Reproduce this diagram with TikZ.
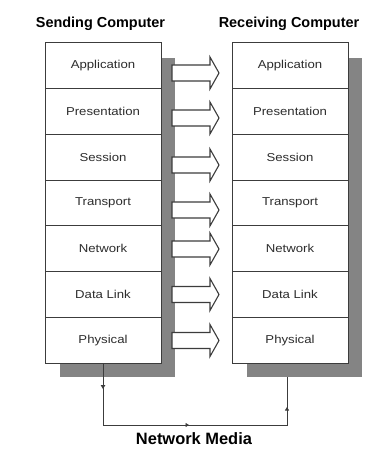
\documentclass[tikz,border=0pt]{standalone}
\usepackage{fontspec}
\setmainfont{Liberation Sans}
\newfontfamily\layerfont[FakeStretch=1.15]{Liberation Sans}
\usetikzlibrary{arrows.meta,decorations.markings}
\definecolor{shadowgray}{RGB}{132,132,132}
\definecolor{edgegray}{RGB}{60,60,60}
\definecolor{textgray}{RGB}{45,45,45}
\tikzset{
  layer/.style={draw=edgegray, line width=1bp, fill=white, minimum width=116bp, minimum height=45.714bp,
    inner sep=0pt, outer sep=0pt, font=\layerfont\fontsize{11.5}{13}\selectfont, text=textgray},
  shadowbox/.style={fill=shadowgray},
  blockarrow/.style={draw=edgegray, line width=1.1bp, fill=white, line join=miter},
  header/.style={font=\bfseries\fontsize{14.5}{16}\selectfont, inner sep=0pt},
  wire/.style={draw=edgegray, line width=1bp,
    decoration={markings,
      mark=at position 26bp with {\arrow{Triangle[length=4bp,width=4.5bp]}},
      mark=at position 148bp with {\arrow{Triangle[length=3.5bp,width=4bp]}},
      mark=at position 264bp with {\arrow{Triangle[length=3.5bp,width=4bp]}}},
    postaction={decorate}}
}
\begin{document}
\begin{tikzpicture}[x=1bp,y=-1bp]
\useasboundingbox (0,0) rectangle (387,453);
% shadows
\fill[shadowbox] (60,58) rectangle (175,377);
\fill[shadowbox] (247,58) rectangle (362,377);
% layers
\foreach \n/\t [count=\i from 0] in {app/Application,pres/Presentation,sess/Session,trans/Transport,net/Network,dl/Data Link,phys/Physical}{
  \node[layer] (s\n) at (103,{43+45.714*\i+22.857}) {\t};
  \node[layer] (r\n) at (290,{43+45.714*\i+22.857}) {\t};
}
% block arrows
\foreach \yy in {73,118,165,210,249,294.5,340.5}{
  \draw[blockarrow] (172,\yy-8) -- (210,\yy-8) -- (210,\yy-16) -- (219,\yy) -- (210,\yy+16) -- (210,\yy+8) -- (172,\yy+8) -- cycle;
}
% headers
\node[header] (send) at (100.5,24) {Sending Computer};
\node[header] (recv) at (289,24) {Receiving Computer};
\node[header, font=\bfseries\fontsize{16.5}{18}\selectfont] (media) at (194,439) {Network Media};
% network media wire
\coordinate (ls) at (sphys.south);
\coordinate (bl) at (103,425);
\coordinate (br) at (287,425);
\coordinate (rs) at (287,377);
\draw[wire] (ls) -- (bl) -- (br) -- (rs);
\end{tikzpicture}
\end{document}
